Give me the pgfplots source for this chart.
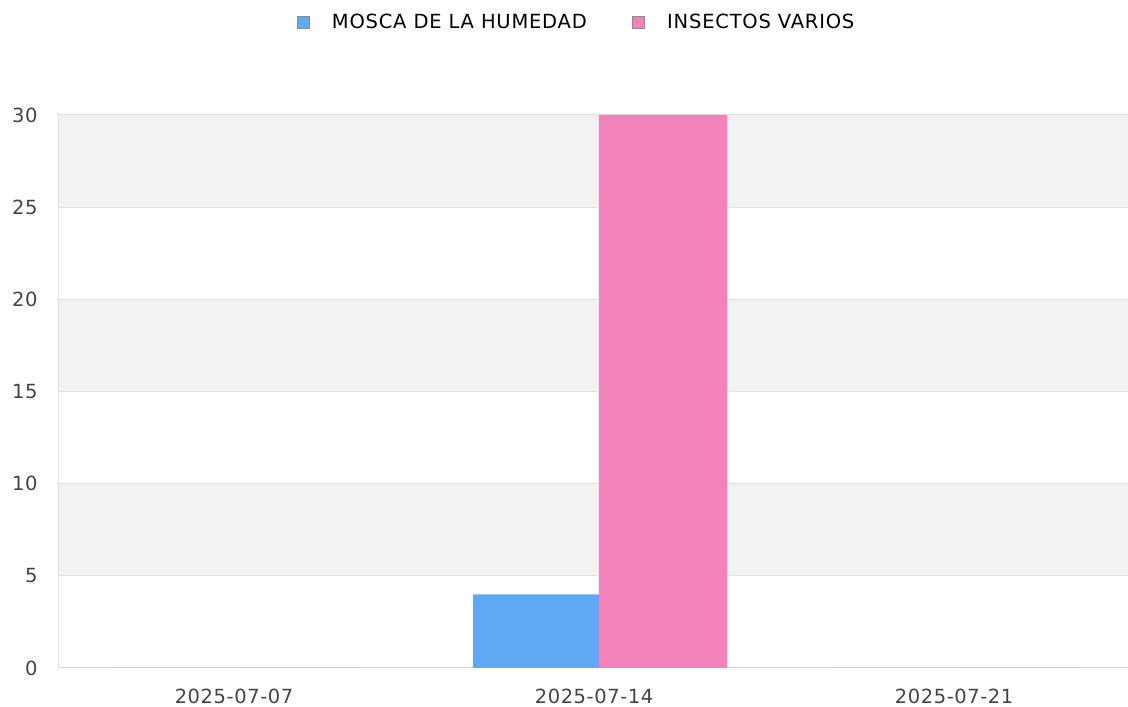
\documentclass[border=0pt]{standalone}
\usepackage{pgfplots}
\pgfplotsset{compat=1.18}
\usepackage{fontspec}
\setmainfont{DejaVu Sans}
\definecolor{cblue}{HTML}{60A8F4}
\definecolor{cpink}{HTML}{F283BA}
\definecolor{band}{HTML}{F2F2F2}
\definecolor{gridc}{HTML}{E0E0E0}
\definecolor{tickc}{HTML}{444444}
\begin{document}
\begin{tikzpicture}[x=1pt,y=1pt]
\begin{axis}[
  set layers,
  at={(58pt,39pt)}, anchor=south west,
  scale only axis, width=1070pt, height=553pt,
  xmin=-0.489, xmax=2.483, ymin=0, ymax=30,
  xtick={0,1,2}, xticklabels={2025-07-07,2025-07-14,2025-07-21},
  ytick={0,5,10,15,20,25,30},
  major tick length=0pt,
  axis line style={draw=none},
  ymajorgrids, grid style={gridc, line width=1pt},
  tick label style={font=\fontsize{19.5}{22}\selectfont\addfontfeature{LetterSpace=3}, text=tickc},
  /pgf/number format/assume math mode=true,
  yticklabel style={xshift=-17pt},
  xticklabel style={yshift=-17pt},
  legend style={at={(0.4845,1.168)}, anchor=center, draw=none, legend columns=2,
    font=\fontsize{19.5}{22}\selectfont\addfontfeature{LetterSpace=4}, text=black,
    /tikz/every odd column/.append style={column sep=21pt},
    /tikz/every even column/.append style={column sep=43pt}},
  legend image code/.code={\draw[#1,draw=gray!90] (0pt,-6pt) rectangle (12pt,6pt);},
]
\begin{pgfonlayer}{axis background}
\fill[band] (axis cs:-0.489,5) rectangle (axis cs:2.483,10);
\fill[band] (axis cs:-0.489,15) rectangle (axis cs:2.483,20);
\fill[band] (axis cs:-0.489,25) rectangle (axis cs:2.483,30);
\end{pgfonlayer}
\draw[gridc, line width=1.5pt] (axis cs:-0.489,0) -- (axis cs:-0.489,30);
\draw[gridc!90!gray, line width=1.5pt] (axis cs:-0.489,0) -- (axis cs:2.483,0);
\addplot[ybar, bar width=0.35, bar shift=-0.161, fill=cblue, draw=none] coordinates {(0,0) (1,4) (2,0)};
\addlegendentry{MOSCA DE LA HUMEDAD}
\addplot[ybar, bar width=0.356, bar shift=0.192, fill=cpink, draw=none] coordinates {(0,0) (1,30) (2,0)};
\addlegendentry{INSECTOS VARIOS}
\end{axis}
\pgfresetboundingbox
\path (0,0) rectangle (1128pt,707pt);
\end{tikzpicture}
\end{document}
